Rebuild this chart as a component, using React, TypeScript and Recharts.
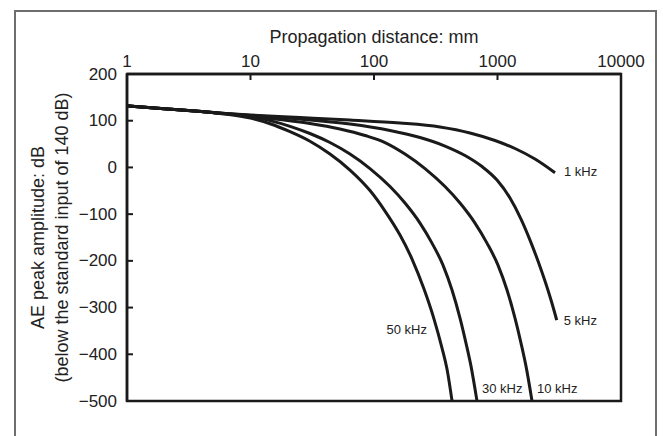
import React from 'react';
import { LineChart, Line, XAxis, YAxis, ReferenceArea } from 'recharts';

// ---- tick values ----
const xTicks = [1, 10, 100, 1000, 10000];
const yTicks = [-500, -400, -300, -200, -100, 0, 100, 200];

// ---- series (propagation distance in mm, amplitude in dB) ----
const dist1k = [1, 2, 4, 6.3, 10, 25.2, 63.9, 162.4, 342.2, 598.8, 954.5, 1386, 2012, 2922];
const amp1k = [132, 125.5, 119.7, 115.6, 112.2, 106.9, 101.5, 95.1, 86.5, 73.7, 57.6, 40.5, 18.0, -11.3];

const dist5k = [1, 2, 4, 6.3, 10, 25.2, 63.9, 134.8, 235.8, 375.7, 545.6, 749, 990.8, 1262.6, 1550, 1833, 2128, 2424, 2712, 3016];
const amp5k = [132, 125.5, 119.7, 115.3, 111.1, 103.6, 92.9, 79.0, 64.0, 45.8, 25.5, 1.9, -27.0, -65.5, -110.5, -155.5, -200.4, -243.3, -283.9, -326.8];

const dist10k = [1, 2, 4, 6.3, 10, 17.3, 30.3, 53.0, 84.6, 122.8, 178.2, 258.8, 375.7, 497.1, 657.3, 822.2, 1009, 1194, 1386, 1550, 1701, 1903];
const amp10k = [132, 125.5, 119.7, 115.1, 110.1, 102.6, 94.0, 82.2, 68.3, 53.3, 28.7, -2.4, -40.9, -76.2, -119.1, -162.0, -209.0, -262.5, -322.5, -376.0, -425.3, -500];

const dist30k = [1, 2, 4, 6.3, 10, 14.4, 20.9, 30.3, 44.0, 63.9, 92.8, 134.8, 178.2, 235.8, 294.9, 361.9, 428.2, 497.1, 555.7, 610.2, 682.3];
const amp30k = [132, 125.5, 119.7, 115.0, 108.6, 100.2, 88.0, 72.6, 53.3, 28.7, -2.4, -40.9, -76.2, -119.1, -162.0, -209.0, -262.5, -322.5, -376.0, -425.3, -500];

const dist50k = [1, 2, 4, 6.3, 10, 14.4, 20.9, 30.3, 44.0, 63.9, 92.8, 122.8, 162.4, 203.2, 254.1, 306.2, 355.5, 390, 428.5];
const amp50k = [132, 125.5, 119.5, 114.2, 105.5, 93.5, 76.5, 56.0, 28.7, -5.6, -49.5, -93.4, -144.8, -196.1, -260.4, -324.6, -386.7, -431.7, -500];

const toPoints = (xs: number[], ys: number[]) => xs.map((x, i) => ({ x, y: ys[i] }));

const FONT = '"Liberation Sans", Arial, Helvetica, sans-serif';
const INK = '#1a1a1a';
const X_TICK_MARGIN = 7;
const Y_TICK_MARGIN = 10;

const fmt = (v: number) => (v < 0 ? '\u2212' + Math.abs(v) : String(v));

const TopTick = (props: any) => {
  const { x, y, payload } = props;
  const axisY = y + X_TICK_MARGIN;
  return (
    <g>
      <text x={x} y={y} textAnchor="middle" fontSize={17} fill="#222" fontFamily={FONT}>
        {payload.value}
      </text>
      <line x1={x} x2={x} y1={axisY} y2={axisY + 6} stroke={INK} strokeWidth={2} />
    </g>
  );
};

const LeftTick = (props: any) => {
  const { x, y, payload } = props;
  const axisX = x + Y_TICK_MARGIN;
  return (
    <g>
      <text x={x} y={y} textAnchor="end" dominantBaseline="central" fontSize={17} fill="#222" fontFamily={FONT}>
        {fmt(payload.value)}
      </text>
      <line x1={axisX} x2={axisX + 6} y1={y} y2={y} stroke={INK} strokeWidth={2} />
    </g>
  );
};

const XTitle = (props: any) => {
  const vb = props.viewBox || { x: 127, y: 44, width: 494, height: 30 };
  return (
    <text
      x={vb.x + vb.width / 2}
      y={vb.y - 7}
      textAnchor="middle"
      dominantBaseline="central"
      fontSize={18}
      fill="#222"
      fontFamily={FONT}
    >
      Propagation distance: mm
    </text>
  );
};

const YTitle = (props: any) => {
  const vb = props.viewBox || { x: 67, y: 74, width: 60, height: 327 };
  const cy = vb.y + vb.height / 2;
  const x1 = vb.x - 29;
  const x2 = vb.x - 5;
  return (
    <g>
      <text
        x={x1}
        y={cy}
        transform={`rotate(-90, ${x1}, ${cy})`}
        textAnchor="middle"
        dominantBaseline="central"
        fontSize={18}
        fill="#222"
        fontFamily={FONT}
      >
        AE peak amplitude: dB
      </text>
      <text
        x={x2}
        y={cy}
        transform={`rotate(-90, ${x2}, ${cy})`}
        textAnchor="middle"
        dominantBaseline="central"
        fontSize={18}
        fill="#222"
        fontFamily={FONT}
      >
        (below the standard input of 140 dB)
      </text>
    </g>
  );
};

const curveLabel =
  (text: string, idx: number, dx: number, dy: number, anchor: 'start' | 'end') =>
  (props: any) => {
    const { cx, cy, index } = props;
    if (index !== idx) return <g key={`e${index}`} />;
    return (
      <text
        key={`l${index}`}
        x={cx + dx}
        y={cy + dy}
        textAnchor={anchor}
        dominantBaseline="central"
        fontSize={13}
        fill="#222"
        fontFamily={FONT}
      >
        {text}
      </text>
    );
  };

const series = [
  { name: '1 kHz', data: toPoints(dist1k, amp1k), dot: curveLabel('1 kHz', dist1k.length - 1, 9, -1, 'start') },
  { name: '5 kHz', data: toPoints(dist5k, amp5k), dot: curveLabel('5 kHz', dist5k.length - 1, 7, 0, 'start') },
  { name: '10 kHz', data: toPoints(dist10k, amp10k), dot: curveLabel('10 kHz', dist10k.length - 1, 5, -12.5, 'start') },
  { name: '30 kHz', data: toPoints(dist30k, amp30k), dot: curveLabel('30 kHz', dist30k.length - 1, 5, -12.5, 'start') },
  { name: '50 kHz', data: toPoints(dist50k, amp50k), dot: curveLabel('50 kHz', 15, -7, 10, 'end') },
];

export default function App() {
  return (
    <div
      style={{
        position: 'absolute',
        left: 0,
        top: 0,
        width: 663,
        height: 436,
        overflow: 'hidden',
        background: '#fff',
      }}
    >
      <div
        style={{
          position: 'absolute',
          left: 14,
          top: 10,
          width: 643,
          height: 600,
          border: '2px solid #6e6e6e',
          boxSizing: 'border-box',
        }}
      />
      <div style={{ position: 'absolute', left: 0, top: 0 }}>
        <LineChart width={663} height={436} margin={{ top: 44, right: 42, bottom: 35, left: 67 }}>
          <XAxis
            type="number"
            dataKey="x"
            scale="log"
            domain={[1, 10000]}
            ticks={xTicks}
            orientation="top"
            height={30}
            tickSize={0}
            tickMargin={X_TICK_MARGIN}
            tick={<TopTick />}
            axisLine={{ stroke: INK, strokeWidth: 2.5 }}
            label={<XTitle />}
            allowDuplicatedCategory={false}
          />
          <YAxis
            type="number"
            dataKey="y"
            domain={[-500, 200]}
            ticks={yTicks}
            width={60}
            tickSize={0}
            tickMargin={Y_TICK_MARGIN}
            tick={<LeftTick />}
            axisLine={{ stroke: INK, strokeWidth: 2.5 }}
            label={<YTitle />}
          />
          <ReferenceArea
            x1={1}
            x2={10000}
            y1={-500}
            y2={200}
            fill="none"
            fillOpacity={0}
            stroke={INK}
            strokeWidth={2.5}
          />
          {series.map((s) => (
            <Line
              key={s.name}
              data={s.data}
              dataKey="y"
              type="monotone"
              stroke={INK}
              strokeWidth={3}
              dot={s.dot}
              activeDot={false}
              isAnimationActive={false}
            />
          ))}
        </LineChart>
      </div>
    </div>
  );
}
